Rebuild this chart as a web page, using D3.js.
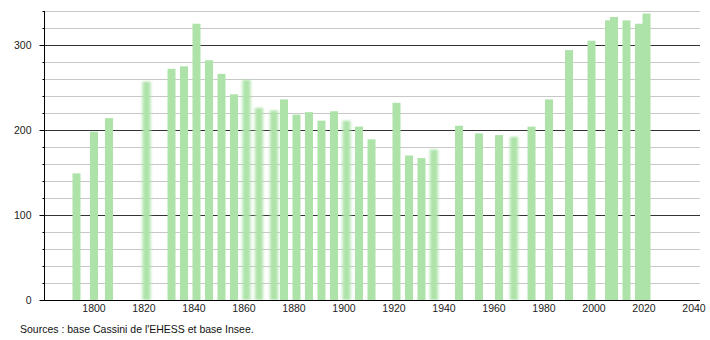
<!DOCTYPE html>
<html>
<head>
<meta charset="utf-8">
<script src="https://cdn.jsdelivr.net/npm/d3@7"></script>
<style>
 body { margin: 0; background: #fff; }
 svg { display: block; font-family: "Liberation Sans", Arial, sans-serif; }
</style>
</head>
<body>
<div id="chart"></div>
<script>
// population by census year
var years = [1793, 1800, 1806, 1821, 1831, 1836, 1841, 1846, 1851, 1856, 1861, 1866, 1872, 1876, 1881,
 1886, 1891, 1896, 1901, 1906, 1911, 1921, 1926, 1931, 1936, 1946, 1954, 1962, 1968, 1975,
 1982, 1990, 1999, 2006, 2008, 2013, 2018, 2021];
var population = [149, 198, 214, 257, 272, 275, 325, 282, 266, 242, 259, 226, 223, 236, 218,
 221, 211, 222, 211, 204, 189, 232, 170, 167, 177, 205, 196, 194, 192, 204,
 236, 294, 305, 329, 333, 329, 325, 337];
// years drawn with a soft (blurred) bar in the original
var softYears = [1821, 1861, 1866, 1872, 1901, 1936, 1968];
var xTicks = [1800, 1820, 1840, 1860, 1880, 1900, 1920, 1940, 1960, 1980, 2000, 2020, 2040];
var yMajor = [0, 100, 200, 300];
var yMinor = d3.range(20, 341, 20).filter(function(v) { return v % 100 != 0; });

var svgWidth = 710;
var svgHeight = 340;
var margin = {top: 11, right: 10, bottom: 40, left: 44};
var width = svgWidth - margin.left - margin.right;
var height = svgHeight - margin.top - margin.bottom;

var data = years.map(function(y, i) { return {year: y, pop: population[i]}; });

var svg = d3.select("#chart")
 .append("svg")
   .attr("width", svgWidth)
   .attr("height", svgHeight);

var defs = svg.append("defs");
defs.append("filter")
   .attr("id", "soft")
   .attr("x", "-50%").attr("width", "200%")
   .attr("y", "-5%").attr("height", "110%")
 .append("feGaussianBlur")
   .attr("stdDeviation", "1.6 0.8");

var g = svg.append("g")
   .attr("transform", "translate(" + margin.left + "," + margin.top + ")");

var x = d3.scaleLinear()
   .domain([1780, 2042.4])
   .range([0, width]);
var y = d3.scaleLinear()
   .domain([0, 340])
   .range([height, 0]);

// minor grid
g.append("g")
 .selectAll("line")
 .data(yMinor)
 .enter()
 .append("line")
   .attr("x1", 0)
   .attr("x2", width)
   .attr("y1", function(d) { return Math.round(y(d)) + 0.5; })
   .attr("y2", function(d) { return Math.round(y(d)) + 0.5; })
   .attr("stroke", "#c8c8c8")
   .attr("stroke-width", 1);

// major grid
g.append("g")
 .selectAll("line")
 .data(yMajor.slice(1))
 .enter()
 .append("line")
   .attr("x1", 0)
   .attr("x2", width)
   .attr("y1", function(d) { return Math.round(y(d)) + 0.5; })
   .attr("y2", function(d) { return Math.round(y(d)) + 0.5; })
   .attr("stroke", "#333")
   .attr("stroke-width", 1);

// bars
g.append("g")
 .selectAll("rect")
 .data(data)
 .enter()
 .append("rect")
   .attr("x", function(d) { return x(d.year) - 4; })
   .attr("width", 8)
   .attr("y", function(d) { return y(d.pop); })
   .attr("height", function(d) { return height - y(d.pop); })
   .attr("fill", "#ade3a9")
   .attr("filter", function(d) { return softYears.indexOf(d.year) >= 0 ? "url(#soft)" : null; });

// Y axis
var yAxis = g.append("g")
   .attr("transform", "translate(0.5,0)");
yAxis.append("line")
   .attr("y1", 0).attr("y2", height + 0.5)
   .attr("stroke", "#000");
yAxis.selectAll(".minor")
 .data(yMinor)
 .enter()
 .append("line")
   .attr("x1", -2).attr("x2", 0)
   .attr("y1", function(d) { return Math.round(y(d)) + 0.5; })
   .attr("y2", function(d) { return Math.round(y(d)) + 0.5; })
   .attr("stroke", "#000");
yAxis.selectAll(".major")
 .data(yMajor)
 .enter()
 .append("line")
   .attr("x1", -5).attr("x2", 0)
   .attr("y1", function(d) { return Math.round(y(d)) + 0.5; })
   .attr("y2", function(d) { return Math.round(y(d)) + 0.5; })
   .attr("stroke", "#000");
yAxis.selectAll("text")
 .data(yMajor)
 .enter()
 .append("text")
   .attr("x", -13)
   .attr("y", function(d) { return y(d) + 4; })
   .attr("text-anchor", "end")
   .attr("font-size", "10.5px")
   .attr("fill", "#222")
   .text(function(d) { return d; });

// X axis
g.append("line")
   .attr("x1", 0).attr("x2", width)
   .attr("y1", height + 0.5).attr("y2", height + 0.5)
   .attr("stroke", "#000");
g.append("g")
 .selectAll("text")
 .data(xTicks)
 .enter()
 .append("text")
   .attr("x", function(d) { return x(d); })
   .attr("y", height + 12)
   .attr("text-anchor", "middle")
   .attr("font-size", "10.5px")
   .attr("fill", "#222")
   .text(function(d) { return d; });

svg.append("text")
   .attr("x", 20)
   .attr("y", 333)
   .attr("font-size", "10.5px")
   .attr("fill", "#111")
   .text("Sources : base Cassini de l'EHESS et base Insee.");
</script>
</body>
</html>
